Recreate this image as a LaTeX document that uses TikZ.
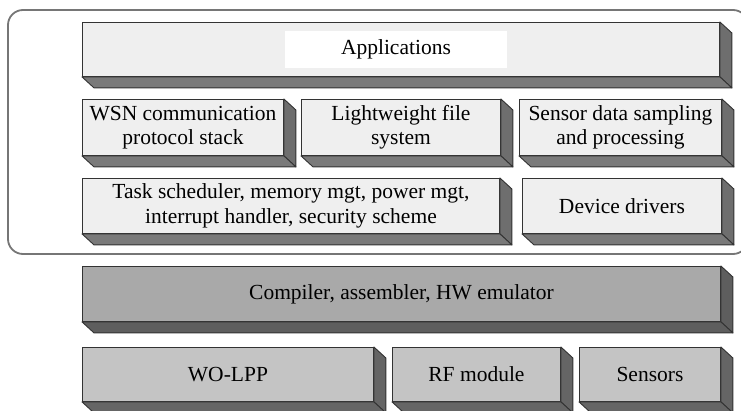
\documentclass[tikz,border=0pt]{standalone}
\usepackage{fontspec}
\setmainfont{Liberation Serif}
\usetikzlibrary{calc}

\definecolor{paleface}{HTML}{EFEFEF}
\definecolor{paleside}{HTML}{6E6E6E}
\definecolor{palebottom}{HTML}{7A7A7A}
\definecolor{midface}{HTML}{A9A9A9}
\definecolor{midside}{HTML}{5E5E5E}
\definecolor{lowface}{HTML}{C4C4C4}
\definecolor{lowside}{HTML}{656565}
\definecolor{edgeline}{HTML}{333333}
\definecolor{frameline}{HTML}{767676}

\tikzset{
  slabface/.style={draw=edgeline, line width=0.9pt, inner sep=0pt, align=center,
    anchor=north west, font=\fontsize{21.5}{24.5}\selectfont},
  slabdepth/.style={draw=edgeline, line width=0.9pt, line join=round},
}

% \slab{name}{x}{y}{width}{height}{face}{side}{bottom}{text}
\newcommand{\slab}[9]{%
  \node[slabface, fill=#6, minimum width=#4pt, minimum height=#5pt] (#1) at (#2,#3) {#9};
  \filldraw[slabdepth, fill=#7] (#1.north east) -- ++(12,11)
     -- ($(#1.south east)+(12,11)$) -- (#1.south east) -- cycle;
  \filldraw[slabdepth, fill=#8] (#1.south west) -- (#1.south east)
     -- ++(12,11) -- ($(#1.south west)+(12,11)$) -- cycle;
}

\begin{document}
\begin{tikzpicture}[x=1pt, y=-1pt]
  \clip (0,0) rectangle (741,411);
  \fill[white] (0,0) rectangle (741,411);

  % software container
  \draw[frameline, line width=1.8pt, rounded corners=15pt] (8,10) rectangle (748,254);

  % operating system layers
  \slab{app}{82}{22}{637}{54}{paleface}{paleside}{palebottom}{}
  \node[fill=white, minimum width=222pt, minimum height=37pt, inner sep=0pt,
        font=\fontsize{21.5}{24.5}\selectfont] (applabel) at ($(app.center)+(-5,0)$) {Applications};

  \slab{wsn}{82}{99}{201}{56}{paleface}{paleside}{palebottom}{WSN communication\\protocol stack}
  \slab{lfs}{301}{99}{199}{56}{paleface}{paleside}{palebottom}{Lightweight file\\system}
  \slab{sds}{519}{99}{202}{56}{paleface}{paleside}{palebottom}{Sensor data sampling\\and processing}

  \slab{task}{82}{178}{417}{55}{paleface}{paleside}{palebottom}{Task scheduler, memory mgt, power mgt,\\interrupt handler, security scheme}
  \slab{dev}{522}{178}{199}{55}{paleface}{paleside}{palebottom}{Device drivers}

  % tool chain
  \slab{comp}{82}{266}{638}{55}{midface}{midside}{midside}{Compiler, assembler, HW emulator}

  % hardware
  \slab{wolpp}{82}{347}{291}{54}{lowface}{lowside}{lowside}{WO-LPP}
  \slab{rf}{392}{347}{168}{54}{lowface}{lowside}{lowside}{RF module}
  \slab{sens}{579}{347}{141}{54}{lowface}{lowside}{lowside}{Sensors}
\end{tikzpicture}
\end{document}
